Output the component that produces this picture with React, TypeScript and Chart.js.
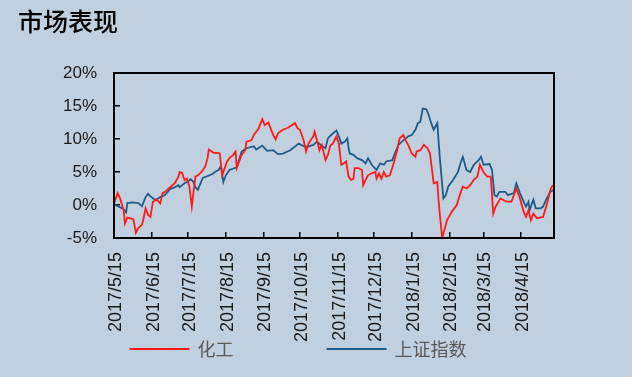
import React, { useEffect, useRef } from 'react';
import { Chart, registerables } from 'chart.js';

Chart.register(...registerables);

// Axis dates (x values are days counted from 2017/5/15)
const BASE_DATE = '2017/5/15';
const END_DATE = '2018/5/12';
const tickLabels = [
  '2017/5/15', '2017/6/15', '2017/7/15', '2017/8/15', '2017/9/15', '2017/10/15',
  '2017/11/15', '2017/12/15', '2018/1/15', '2018/2/15', '2018/3/15', '2018/4/15',
];
const yTickValues = [-5, 0, 5, 10, 15, 20];
const seriesNames = ['化工', '上证指数'];

// 化工 (chemical industry), cumulative return in %
const chemDays = [
  0, 3, 5, 8, 9, 11, 13, 16, 18, 20, 23, 24, 26, 28, 30, 32, 35, 38, 40, 42, 45, 47, 50, 53, 54,
  56, 58, 60, 62, 64, 65, 67, 69, 72, 75, 77, 78, 82, 85, 87, 89, 93, 95, 98, 100, 101, 105, 108,
  109, 113, 115, 119, 122, 124, 127, 131, 133, 135, 139, 143, 149, 151, 153, 156, 158, 160, 164,
  165, 167, 169, 171, 174, 176, 178, 180, 183, 185, 187, 189, 191, 193, 195, 197, 198, 201, 204,
  205, 207, 209, 212, 215, 216, 218, 220, 222, 224, 227, 230, 233, 235, 238, 240, 242, 245, 248,
  249, 252, 255, 258, 260, 263, 266, 267, 268, 270, 274, 278, 282, 285, 287, 290, 293, 296, 299,
  301, 304, 307, 310, 312, 314, 318, 320, 323, 327, 331, 334, 337, 339, 341, 343, 345, 348, 353,
  356, 359, 361,
];
const chemValues = [
  0.2, 1.8, 1.0, -0.8, -2.8, -1.9, -2.0, -2.2, -4.2, -3.5, -3.0, -2.3, -0.5, -1.5, -1.8, 0.5, 0.85,
  0.25, 1.8, 2.0, 2.5, 2.8, 3.3, 4.3, 5.0, 4.9, 3.8, 4.0, 2.8, -0.25, 1.3, 4.3, 4.5, 5.0, 5.8, 7.1,
  8.4, 7.9, 7.9, 7.8, 4.5, 6.6, 7.1, 7.6, 8.1, 5.6, 7.6, 8.3, 9.6, 9.8, 10.6, 11.6, 13.0, 12.1, 12.5,
  10.6, 9.95, 10.9, 11.4, 11.7, 12.4, 11.6, 11.4, 9.8, 8.1, 9.3, 10.4, 11.1, 9.8, 8.3, 9.1, 6.8, 7.6,
  9.0, 9.3, 10.4, 9.3, 6.1, 6.3, 6.6, 4.3, 3.8, 4.0, 5.6, 5.6, 5.3, 3.0, 3.8, 4.5, 4.8, 5.0, 4.0, 4.8,
  4.0, 5.0, 4.3, 4.5, 6.3, 8.3, 10.1, 10.6, 9.8, 9.1, 7.8, 7.3, 8.1, 8.3, 9.1, 8.6, 7.8, 3.3, 3.5,
  0.8, -1.3, -5.0, -2.3, -1.0, 0, 1.8, 2.8, 2.5, 3.0, 3.8, 4.3, 6.1, 5.0, 4.3, 4.3, -1.3, -0.25, 1.0,
  0.8, 0.5, 0.5, 2.5, 1.0, -1.0, -1.8, -0.8, -2.3, -1.3, -2.0, -1.8, 0, 2.3, 3.0,
];

// 上证指数 (SSE Composite), cumulative return in %
const sseDays = [
  0, 3, 7, 10, 11, 15, 20, 23, 26, 28, 30, 33, 35, 38, 42, 46, 49, 53, 54, 58, 61, 63, 65, 67, 69,
  71, 73, 77, 81, 83, 86, 88, 90, 92, 95, 101, 102, 105, 109, 115, 117, 122, 126, 131, 135, 139, 145,
  152, 156, 159, 164, 167, 170, 174, 176, 178, 183, 185, 187, 190, 192, 193, 194, 197, 200, 204, 207,
  209, 212, 216, 219, 222, 224, 229, 231, 234, 238, 242, 245, 248, 250, 252, 254, 257, 259, 261, 263,
  266, 268, 271, 273, 275, 279, 283, 285, 287, 290, 293, 296, 300, 302, 304, 309, 311, 313, 315, 317,
  322, 324, 329, 331, 334, 337, 339, 341, 342, 345, 347, 351, 353, 356, 359, 362,
];
const sseValues = [
  0.15, -0.2, -0.5, -1.1, 0.3, 0.4, 0.3, -0.2, 1.2, 1.7, 1.3, 0.9, 0.8, 1.2, 1.5, 2.4, 2.6, 3.0, 2.7,
  3.3, 3.6, 3.9, 3.6, 2.7, 2.3, 3.2, 4.1, 4.4, 4.7, 5.0, 5.3, 5.9, 3.5, 4.5, 5.3, 5.7, 6.3, 8.1, 8.6,
  8.9, 8.4, 9.0, 8.2, 8.3, 7.7, 7.8, 8.3, 9.3, 8.9, 8.8, 9.1, 9.6, 9.1, 8.6, 10.1, 10.5, 11.3, 10.4,
  9.3, 9.6, 10.1, 8.6, 7.8, 7.6, 7.1, 6.8, 6.3, 7.1, 6.1, 5.3, 6.3, 6.1, 6.6, 6.8, 7.8, 9.1, 9.8, 10.4,
  10.6, 11.4, 12.4, 12.6, 14.6, 14.5, 13.6, 12.4, 11.4, 12.4, 7.3, 1.0, 1.5, 2.8, 3.8, 5.0, 6.3, 7.3,
  5.3, 5.0, 6.1, 6.8, 7.3, 6.1, 6.2, 5.3, 1.5, 1.3, 2.0, 2.0, 1.5, 1.8, 3.3, 1.8, 0.5, -0.25, 0.5,
  -0.76, 0.8, -0.5, -0.5, -0.25, 1.0, 2.0, 2.3,
];

const dayOf = (label: string) => {
  const [y, m, d] = label.split('/').map(Number);
  const [by, bm, bd] = BASE_DATE.split('/').map(Number);
  return Math.round((Date.UTC(y, m - 1, d) - Date.UTC(by, bm - 1, bd)) / 86400000);
};

const CJK = '"Noto Sans CJK SC", "Noto Sans", sans-serif';
const LATIN = '"Liberation Sans", Arial, sans-serif';

const framePlugin = {
  id: 'frame',
  afterDatasetsDraw(chart: any) {
    const { ctx, chartArea } = chart;
    ctx.save();
    ctx.strokeStyle = '#000';
    ctx.lineWidth = 2;
    ctx.strokeRect(chartArea.left, chartArea.top, chartArea.right - chartArea.left, chartArea.bottom - chartArea.top);
    ctx.restore();
  },
};

// Legend drawn as line samples + labels, centred under the chart
const lineLegendPlugin = {
  id: 'lineLegend',
  afterDraw(chart: any) {
    const { ctx } = chart;
    const lineLength = 60;
    const textGap = 8;
    const itemGap = 93;
    const fontSize = 18;
    const items = chart.data.datasets.map((ds: any) => ({
      text: ds.label as string,
      color: ds.borderColor as string,
      width: ds.borderWidth as number,
    }));
    ctx.save();
    ctx.font = `${fontSize}px ${CJK}`;
    const widths = items.map((it: any) => lineLength + textGap + ctx.measureText(it.text).width);
    const total = widths.reduce((a: number, b: number) => a + b, 0) + itemGap * (items.length - 1);
    const centerX = chart.width / 2 - 18;
    const y = chart.height - 28;
    let x = centerX - total / 2;
    items.forEach((it: any, i: number) => {
      ctx.strokeStyle = it.color;
      ctx.lineWidth = it.width;
      ctx.beginPath();
      ctx.moveTo(x, y);
      ctx.lineTo(x + lineLength, y);
      ctx.stroke();
      ctx.fillStyle = '#595959';
      ctx.textAlign = 'left';
      ctx.textBaseline = 'middle';
      ctx.fillText(it.text, x + lineLength + textGap, y);
      x += widths[i] + itemGap;
    });
    ctx.restore();
  },
};

export default function App() {
  const ref = useRef<HTMLCanvasElement | null>(null);

  useEffect(() => {
    if (!ref.current) return;
    const tickDays = tickLabels.map(dayOf);
    const chart = new Chart(ref.current, {
      type: 'line',
      data: {
        datasets: [
          {
            label: seriesNames[0],
            data: chemDays.map((d, i) => ({ x: d, y: chemValues[i] })),
            borderColor: '#ff1a1a',
            backgroundColor: '#ff1a1a',
            borderWidth: 1.8,
            pointRadius: 0,
            tension: 0,
          },
          {
            label: seriesNames[1],
            data: sseDays.map((d, i) => ({ x: d, y: sseValues[i] })),
            borderColor: '#1f5b88',
            backgroundColor: '#1f5b88',
            borderWidth: 1.8,
            pointRadius: 0,
            tension: 0,
          },
        ],
      },
      options: {
        animation: false,
        responsive: false,
        events: [],
        layout: { padding: { left: 18, right: 78, top: 0, bottom: 29 } },
        plugins: {
          title: {
            display: true,
            text: '市场表现',
            align: 'start',
            color: '#000',
            font: { family: CJK, size: 25, weight: '500' },
            padding: { top: 6, bottom: 37 },
          },
          legend: { display: false },
          tooltip: { enabled: false },
        },
        scales: {
          x: {
            type: 'linear',
            min: 0,
            max: dayOf(END_DATE),
            afterBuildTicks: (s: any) => {
              s.ticks = tickDays.map((v) => ({ value: v }));
            },
            afterFit: (s: any) => {
              s.height = 110;
            },
            ticks: {
              autoSkip: false,
              minRotation: 90,
              maxRotation: 90,
              padding: 20,
              labelOffset: 2,
              color: '#1a1a1a',
              font: { family: LATIN, size: 18 },
              callback: (_v: any, i: number) => tickLabels[i],
            },
            grid: { drawOnChartArea: false, tickLength: -6, color: '#000', lineWidth: 1.5 },
            border: { display: false },
          },
          y: {
            min: yTickValues[0],
            max: yTickValues[yTickValues.length - 1],
            afterBuildTicks: (s: any) => {
              s.ticks = yTickValues.map((v) => ({ value: v }));
            },
            afterFit: (s: any) => {
              s.width = 96;
            },
            ticks: {
              padding: 23,
              color: '#1a1a1a',
              font: { family: LATIN, size: 17 },
              callback: (v: any) => `${v}%`,
            },
            grid: { drawOnChartArea: false, tickLength: -6, color: '#000', lineWidth: 1.5 },
            border: { display: false },
          },
        },
      },
      plugins: [framePlugin, lineLegendPlugin],
    });
    return () => chart.destroy();
  }, []);

  return (
    <div style={{ position: 'fixed', left: 0, top: 0, width: 632, height: 377, background: '#c1d0df' }}>
      <canvas ref={ref} width={632} height={377} style={{ display: 'block' }} />
    </div>
  );
}
